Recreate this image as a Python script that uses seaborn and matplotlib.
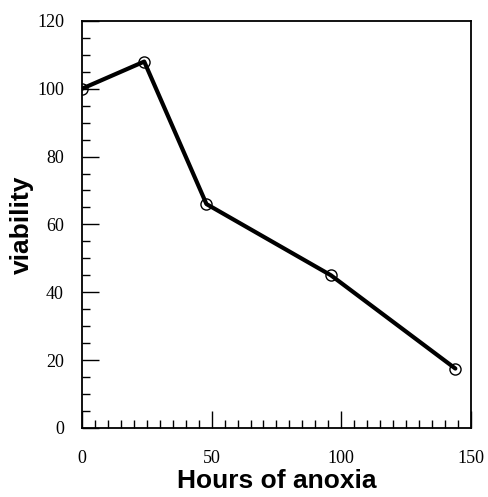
import numpy as np
import pandas as pd
import matplotlib
matplotlib.use("Agg")
import matplotlib.pyplot as plt
import seaborn as sns
from matplotlib.ticker import MultipleLocator

hours = [0, 24, 48, 96, 144]
viability = [100, 108, 66, 45, 17.5]

df = pd.DataFrame({"hours": hours, "viability": viability})

sns.set_style("ticks")

fig = plt.figure(figsize=(4.88, 4.97), dpi=100)
ax = fig.add_axes([0.168, 0.139, 0.797, 0.819])

sns.lineplot(data=df, x="hours", y="viability", ax=ax, color="black",
             linewidth=3, marker="o", markersize=8, markerfacecolor="none",
             markeredgecolor="black", markeredgewidth=1.0)

ax.set_xlim(0, 150)
ax.set_ylim(0, 120)
ax.xaxis.set_major_locator(MultipleLocator(50))
ax.xaxis.set_minor_locator(MultipleLocator(5))
ax.yaxis.set_major_locator(MultipleLocator(20))
ax.yaxis.set_minor_locator(MultipleLocator(5))

for s in ax.spines.values():
    s.set_linewidth(1.3)
    s.set_color("black")

ax.tick_params(axis="both", which="both", direction="in", top=False, right=False,
               width=1.0, colors="black")
ax.tick_params(axis="x", which="major", length=12, pad=16)
ax.tick_params(axis="y", which="major", length=12, pad=13)
ax.tick_params(axis="both", which="minor", length=6)

for lab in ax.get_xticklabels() + ax.get_yticklabels():
    lab.set_family(["Liberation Serif", "DejaVu Serif"])
    lab.set_fontsize(13)
    lab.set_color("black")

ax.set_xlabel("Hours of anoxia", fontsize=19, fontweight="bold", color="black",
              family=["Liberation Sans", "DejaVu Sans"], labelpad=1)
ax.set_ylabel("viability", fontsize=19, fontweight="bold", color="black",
              family=["Liberation Sans", "DejaVu Sans"], labelpad=2)

fig.savefig("out.png", dpi=100)
